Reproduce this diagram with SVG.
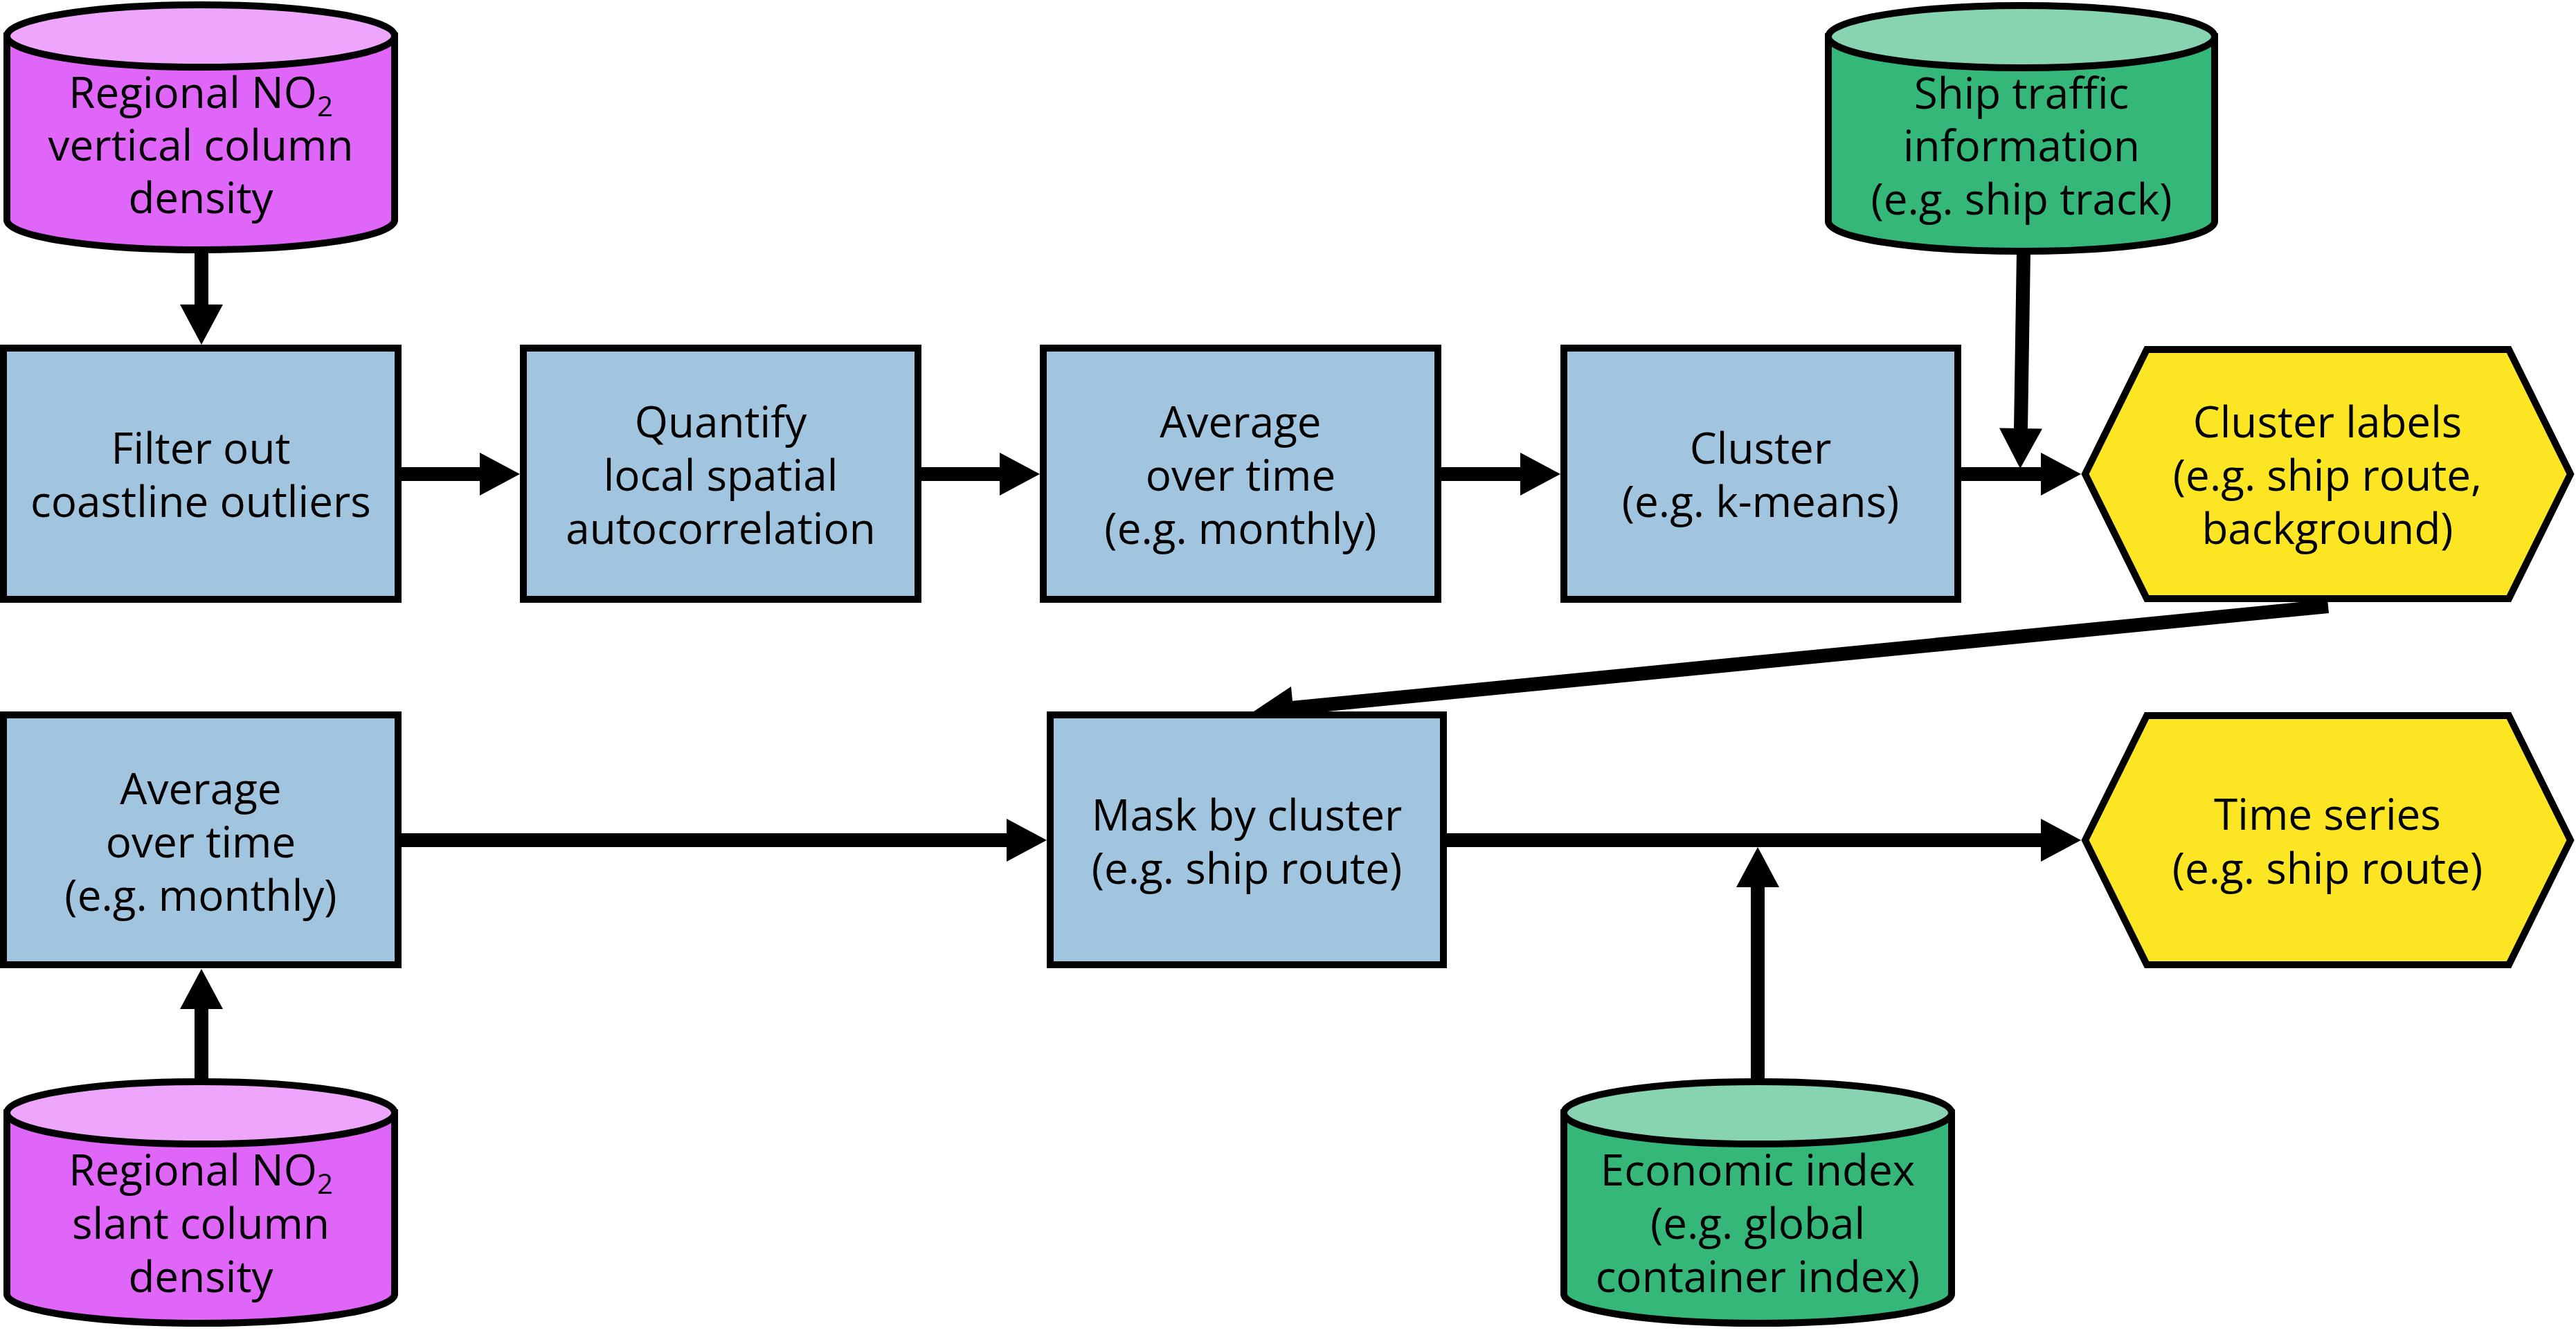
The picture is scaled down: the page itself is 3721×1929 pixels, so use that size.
<svg xmlns="http://www.w3.org/2000/svg" width="3721" height="1929" viewBox="0 0 3721 1929">
<style>
  .box { fill: #A2C5DF; stroke: #000; stroke-width: 10; }
  .hex { fill: #FCE624; stroke: #000; stroke-width: 10; stroke-linejoin: miter; }
  .mag-body { fill: #E066FA; stroke: #000; stroke-width: 10; }
  .mag-top { fill: #EEA6FC; stroke: #000; stroke-width: 10; }
  .grn-body { fill: #35B77A; stroke: #000; stroke-width: 10; }
  .grn-top { fill: #88D3B1; stroke: #000; stroke-width: 10; }
  .lbl { font-family: "Open Sans", "Noto Sans", "Liberation Sans", sans-serif; font-size: 62px; fill: #000; text-anchor: middle; }
  .sub { font-size: 40px; }
  .conn { stroke: #000; stroke-width: 20; fill: none; }
</style>
<defs>
  <marker id="arr" markerUnits="userSpaceOnUse" markerWidth="60" markerHeight="62" refX="2" refY="31" orient="auto" overflow="visible">
    <path d="M0,0 L58,31 L0,62 Z" fill="#000"/>
  </marker>
</defs>
<rect width="3721" height="1929" fill="#fff"/>

<g id="connectors">
  <line class="conn" x1="291" y1="360" x2="291" y2="442" marker-end="url(#arr)"/>
  <line class="conn" x1="580" y1="685" x2="695" y2="685" marker-end="url(#arr)"/>
  <line class="conn" x1="1331" y1="685" x2="1446" y2="685" marker-end="url(#arr)"/>
  <line class="conn" x1="2082" y1="685" x2="2198" y2="685" marker-end="url(#arr)"/>
  <line class="conn" x1="2833" y1="685" x2="2950" y2="685" marker-end="url(#arr)"/>
  <line class="conn" x1="2923" y1="365" x2="2919" y2="621" marker-end="url(#arr)"/>
  <line class="conn" x1="3363" y1="876" x2="1866" y2="1023" marker-end="url(#arr)"/>
  <line class="conn" x1="580" y1="1214" x2="1456" y2="1214" marker-end="url(#arr)"/>
  <line class="conn" x1="2090" y1="1214" x2="2950" y2="1214" marker-end="url(#arr)"/>
  <line class="conn" x1="2539" y1="1565" x2="2539" y2="1280" marker-end="url(#arr)"/>
  <line class="conn" x1="291" y1="1565" x2="291" y2="1456" marker-end="url(#arr)"/>
</g>

<g id="node-vcd">
  <path class="mag-body" d="M10,52 L10,318 A280,43 0 0 0 570,318 L570,52 Z"/>
  <ellipse class="mag-top" cx="290" cy="52" rx="280" ry="45"/>
  <text class="lbl"><tspan x="290" y="156">Regional NO<tspan class="sub" dy="12">2</tspan></tspan><tspan x="290" y="232">vertical column</tspan><tspan x="290" y="308">density</tspan></text>
</g>

<g id="node-filter">
  <rect class="box" x="5" y="503" width="570" height="363"/>
  <text class="lbl"><tspan x="290" y="670">Filter out</tspan><tspan x="290" y="747">coastline outliers</tspan></text>
</g>

<g id="node-quantify">
  <rect class="box" x="756" y="503" width="570" height="363"/>
  <text class="lbl"><tspan x="1041" y="632">Quantify</tspan><tspan x="1041" y="709">local spatial</tspan><tspan x="1041" y="786">autocorrelation</tspan></text>
</g>

<g id="node-average1">
  <rect class="box" x="1507" y="503" width="570" height="363"/>
  <text class="lbl"><tspan x="1792" y="632">Average</tspan><tspan x="1792" y="709">over time</tspan><tspan x="1792" y="786">(e.g. monthly)</tspan></text>
</g>

<g id="node-cluster">
  <rect class="box" x="2259" y="503" width="569" height="363"/>
  <text class="lbl"><tspan x="2543" y="670">Cluster</tspan><tspan x="2543" y="747">(e.g. k-means)</tspan></text>
</g>

<g id="node-ship">
  <path class="grn-body" d="M2641,53 L2641,320 A279,43 0 0 0 3199,320 L3199,53 Z"/>
  <ellipse class="grn-top" cx="2920" cy="53" rx="279" ry="45"/>
  <text class="lbl"><tspan x="2920" y="157">Ship traffic</tspan><tspan x="2920" y="233">information</tspan><tspan x="2920" y="310">(e.g. ship track)</tspan></text>
</g>

<g id="node-labels">
  <polygon class="hex" points="3012,685 3101,505 3624,505 3713,685 3624,865 3101,865"/>
  <text class="lbl"><tspan x="3362" y="632">Cluster labels</tspan><tspan x="3362" y="709">(e.g. ship route,</tspan><tspan x="3362" y="786">background)</tspan></text>
</g>

<g id="node-average2">
  <rect class="box" x="5" y="1033" width="570" height="361"/>
  <text class="lbl"><tspan x="290" y="1162">Average</tspan><tspan x="290" y="1239">over time</tspan><tspan x="290" y="1316">(e.g. monthly)</tspan></text>
</g>

<g id="node-mask">
  <rect class="box" x="1517" y="1033" width="568" height="361"/>
  <text class="lbl"><tspan x="1801" y="1200">Mask by cluster</tspan><tspan x="1801" y="1277">(e.g. ship route)</tspan></text>
</g>

<g id="node-timeseries">
  <polygon class="hex" points="3012,1214 3101,1034 3624,1034 3713,1214 3624,1394 3101,1394"/>
  <text class="lbl"><tspan x="3362" y="1199">Time series</tspan><tspan x="3362" y="1277">(e.g. ship route)</tspan></text>
</g>

<g id="node-scd">
  <path class="mag-body" d="M10,1608 L10,1870 A280,42 0 0 0 570,1870 L570,1608 Z"/>
  <ellipse class="mag-top" cx="290" cy="1608" rx="280" ry="45"/>
  <text class="lbl"><tspan x="290" y="1713">Regional NO<tspan class="sub" dy="12">2</tspan></tspan><tspan x="290" y="1790">slant column</tspan><tspan x="290" y="1867">density</tspan></text>
</g>

<g id="node-economic">
  <path class="grn-body" d="M2259,1608 L2259,1870 A280,42 0 0 0 2819,1870 L2819,1608 Z"/>
  <ellipse class="grn-top" cx="2539" cy="1608" rx="280" ry="45"/>
  <text class="lbl"><tspan x="2539" y="1713">Economic index</tspan><tspan x="2539" y="1790">(e.g. global</tspan><tspan x="2539" y="1867">container index)</tspan></text>
</g>
</svg>
